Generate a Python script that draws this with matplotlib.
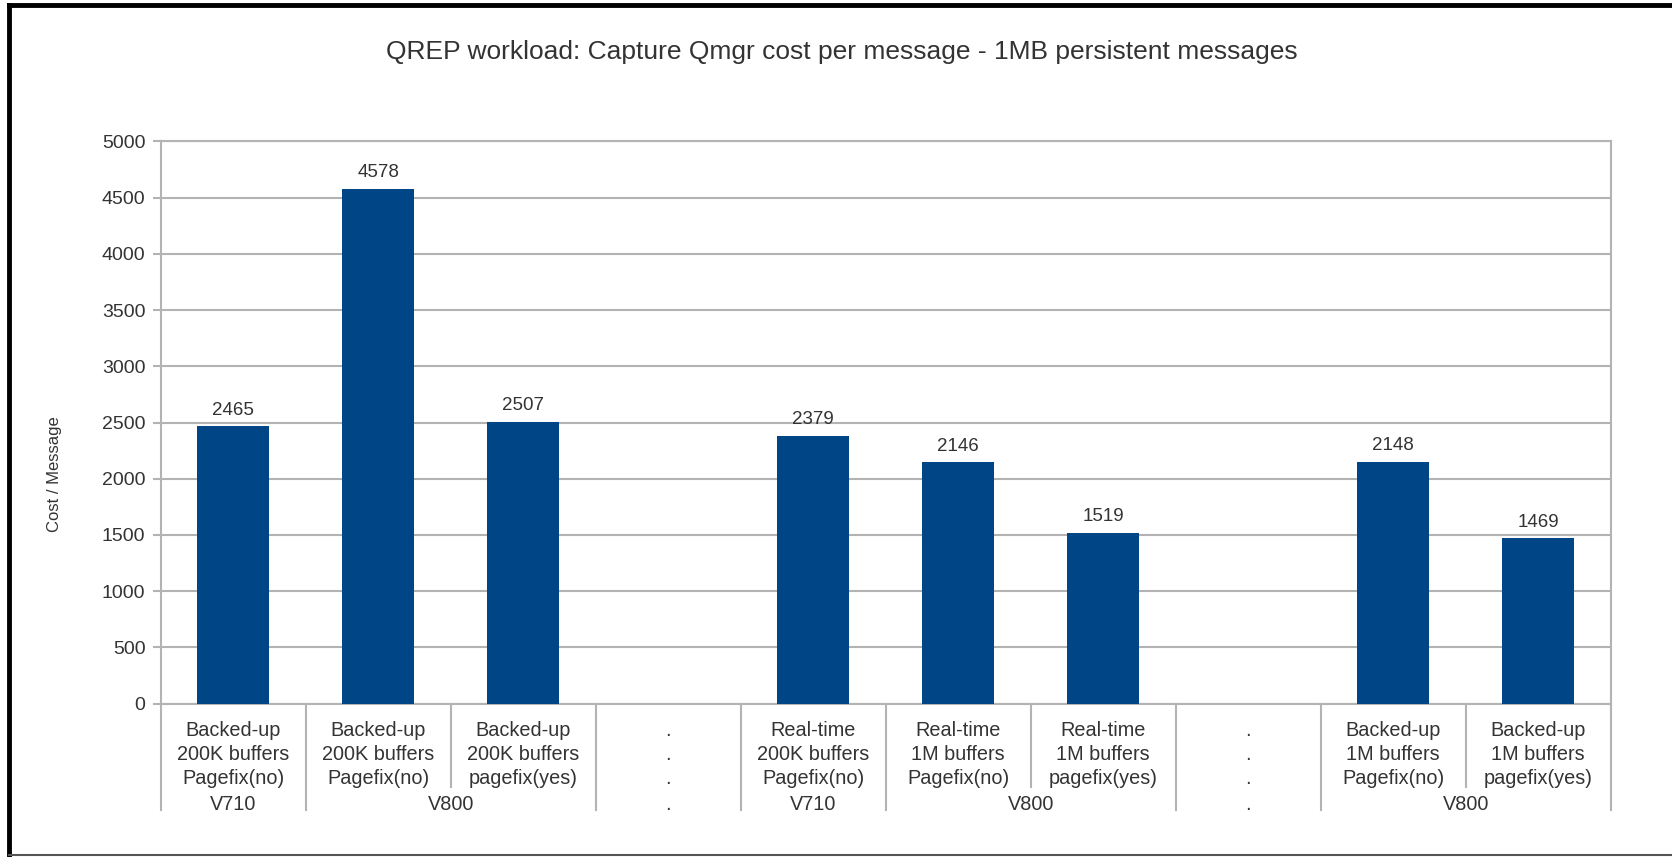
import numpy as np
import matplotlib.pyplot as plt
from matplotlib.lines import Line2D
import matplotlib.transforms as mtransforms

plt.rcParams['font.family'] = ['Liberation Sans', 'DejaVu Sans']

# --- Data ---
line1 = ["Backed-up", "Backed-up", "Backed-up", ".", "Real-time", "Real-time",
         "Real-time", ".", "Backed-up", "Backed-up"]
line2 = ["200K buffers", "200K buffers", "200K buffers", ".", "200K buffers",
         "1M buffers", "1M buffers", ".", "1M buffers", "1M buffers"]
line3 = ["Pagefix(no)", "Pagefix(no)", "pagefix(yes)", ".", "Pagefix(no)",
         "Pagefix(no)", "pagefix(yes)", ".", "Pagefix(no)", "pagefix(yes)"]
cost = [2465, 4578, 2507, np.nan, 2379, 2146, 1519, np.nan, 2148, 1469]

# version groups: (label, first category, last category)
group_names = ["V710", "V800", ".", "V710", "V800", ".", "V800"]
group_first = [0, 1, 3, 4, 5, 7, 8]
group_last = [0, 2, 3, 4, 6, 7, 9]

bar_color = "#004586"
grid_color = "#b3b3b3"
text_color = "#333333"

fig = plt.figure(figsize=(16.72, 8.57), dpi=100)
ax = fig.add_axes([0.0961, 0.1791, 0.8672, 0.6558])

x = np.arange(len(cost))
ax.bar(x, cost, width=0.5, color=bar_color, zorder=3)
for xi, v in zip(x, cost):
    if not np.isnan(v):
        ax.annotate(f"{v:.0f}", (xi, v), xytext=(0, 5.5), textcoords="offset points",
                    ha="center", va="bottom", fontsize=13.5, color=text_color)

ax.set_xlim(-0.5, len(cost) - 0.5)
ax.set_ylim(0, 5000)
ax.set_yticks(np.arange(0, 5001, 500))
ax.yaxis.grid(True, color=grid_color, linewidth=1.5, zorder=0)
ax.set_axisbelow(True)
ax.set_xticks([])
ax.tick_params(axis="y", length=6, width=1.5, color=grid_color, pad=5,
               labelsize=14, labelcolor=text_color)
for side in ["left", "right", "top", "bottom"]:
    ax.spines[side].set_color(grid_color)
    ax.spines[side].set_linewidth(1.5)

ax.set_ylabel("Cost / Message", fontsize=12, color=text_color)
ax.yaxis.set_label_coords(-0.068, 0.408)

fig.text(0.5037, 0.939, "QREP workload: Capture Qmgr cost per message - 1MB persistent messages",
         ha="center", va="center", fontsize=19, color=text_color)

# hierarchical category axis below the plot
trans = mtransforms.blended_transform_factory(ax.transData, ax.transAxes)
row_y = [-0.0489, -0.0899, -0.1326]
for i in x:
    for lines, ry in zip([line1, line2, line3], row_y):
        ax.text(i, ry, lines[i], transform=trans, ha="center", va="center",
                fontsize=14.3, color=text_color)

group_y = -0.1788
group_bounds = set()
for name, a, b in zip(group_names, group_first, group_last):
    ax.text((a + b) / 2, group_y, name, transform=trans, ha="center", va="center",
            fontsize=14.3, color=text_color)
    group_bounds.add(a - 0.5)
    group_bounds.add(b + 0.5)

for k in range(len(cost) + 1):
    edge = k - 0.5
    y_end = -0.1895 if edge in group_bounds else -0.148
    ax.add_line(Line2D([edge, edge], [0, y_end], transform=trans, color=grid_color,
                       linewidth=1.5, clip_on=False))

# outer frame
fig.add_artist(Line2D([9 / 1672, 9 / 1672], [0, 1 - 5 / 857], transform=fig.transFigure,
                      color="black", linewidth=3.5))
fig.add_artist(Line2D([9 / 1672, 1], [1 - 5 / 857, 1 - 5 / 857], transform=fig.transFigure,
                      color="black", linewidth=3.5))
fig.add_artist(Line2D([9 / 1672, 1], [2 / 857, 2 / 857], transform=fig.transFigure,
                      color="#555555", linewidth=1.5))

fig.savefig("out.png", dpi=100)
